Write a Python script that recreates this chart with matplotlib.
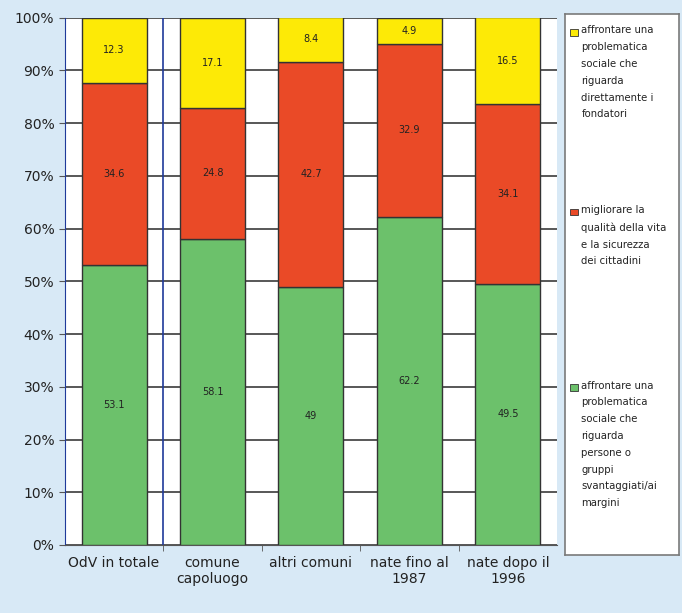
import matplotlib.pyplot as plt
from matplotlib.patches import Rectangle

categorie = ['OdV in totale', 'comune\ncapoluogo', 'altri comuni', 'nate fino al\n1987', 'nate dopo il\n1996']
svantaggiati = [53.1, 58.1, 49, 62.2, 49.5]
qualita_vita = [34.6, 24.8, 42.7, 32.9, 34.1]
fondatori = [12.3, 17.1, 8.4, 4.9, 16.5]

etichette_legenda = [
    'affrontare una\nproblematica\nsociale che\nriguarda\ndirettamente i\nfondatori',
    'migliorare la\nqualità della vita\ne la sicurezza\ndei cittadini',
    'affrontare una\nproblematica\nsociale che\nriguarda\npersone o\ngruppi\nsvantaggiati/ai\nmargini',
]

verde = '#6cc16b'
rosso = '#ea4a27'
giallo = '#fdea06'
sfondo = '#d8e9f6'

fig = plt.figure(figsize=(6.82, 6.13), dpi=100, facecolor=sfondo)
ax = fig.add_axes([0.095, 0.111, 0.722, 0.86])
ax.set_facecolor('white')

x = range(len(categorie))
larg = 0.66
ax.bar(x, svantaggiati, larg, color=verde, edgecolor='#333333', linewidth=1, zorder=3)
ax.bar(x, qualita_vita, larg, bottom=svantaggiati, color=rosso, edgecolor='#333333', linewidth=1, zorder=3)
basi = [a + b for a, b in zip(svantaggiati, qualita_vita)]
ax.bar(x, fondatori, larg, bottom=basi, color=giallo, edgecolor='#333333', linewidth=1, zorder=3)

for i in x:
    ax.text(i, svantaggiati[i] / 2, str(svantaggiati[i]).replace('.0', ''), ha='center', va='center', fontsize=7, color='#222222', zorder=4)
    ax.text(i, svantaggiati[i] + qualita_vita[i] / 2, str(qualita_vita[i]), ha='center', va='center', fontsize=7, color='#222222', zorder=4)
    ax.text(i, basi[i] + fondatori[i] / 2, str(fondatori[i]), ha='center', va='center', fontsize=7, color='#222222', zorder=4)

ax.set_xlim(-0.5, len(categorie) - 0.5)
ax.set_ylim(0, 100)
ax.set_yticks(range(0, 101, 10))
ax.set_yticklabels([f'{v}%' for v in range(0, 101, 10)], fontsize=10, color='#222222')
ax.set_xticks(list(x))
ax.set_xticklabels(categorie, fontsize=10, color='#222222')
ax.tick_params(axis='x', length=0, pad=8)
ax.tick_params(axis='y', length=4, color='#555555')
ax.set_xticks([i + 0.5 for i in range(len(categorie) - 1)], minor=True)
ax.tick_params(axis='x', which='minor', length=4, color='#555555')
ax.yaxis.grid(True, color='#4a4a4a', linewidth=1.3, zorder=1)
ax.set_axisbelow(True)
ax.axvline(0.5, color='#1f3a9a', linewidth=1.2, zorder=2)
for lato in ['top', 'right']:
    ax.spines[lato].set_visible(False)
ax.spines['left'].set_color('#1f3a9a')
ax.spines['bottom'].set_color('#555555')

# legenda disegnata a mano
lg = fig.add_axes([0.829, 0.094, 0.167, 0.883])
lg.set_xlim(0, 1)
lg.set_ylim(0, 1)
lg.set_xticks([])
lg.set_yticks([])
lg.set_facecolor('white')
for s in lg.spines.values():
    s.set_color('#7a7a7a')
    s.set_linewidth(1.2)
colori_leg = [giallo, rosso, verde]
y_leg = [0.972, 0.64, 0.316]
for col, lab, yy in zip(colori_leg, etichette_legenda, y_leg):
    lg.add_patch(Rectangle((0.04, yy - 0.012), 0.07, 0.012, facecolor=col, edgecolor='#333333', linewidth=0.6))
    lg.text(0.14, yy + 0.007, lab, ha='left', va='top', fontsize=7.3, color='#222222', linespacing=1.85)

fig.savefig('out.png', dpi=100, facecolor=sfondo)
